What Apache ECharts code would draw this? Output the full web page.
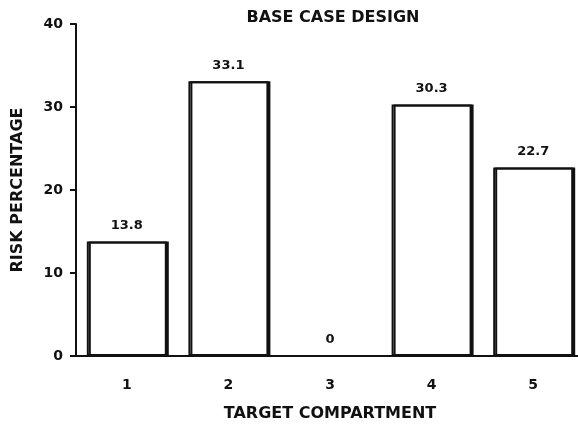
<!DOCTYPE html>
<html><head><meta charset="utf-8">
<script src="https://cdn.jsdelivr.net/npm/echarts@6/dist/echarts.min.js"></script>
<style>html,body{margin:0;padding:0;background:#fff}#c{width:578px;height:426px}</style>
</head><body><div id="c"></div>
<script>
const categories = ['1','2','3','4','5'];
const riskValues = [13.8, 33.1, 0, 30.3, 22.7];
const yTicks = [0, 10, 20, 30, 40];
const font = 'DejaVu Sans, sans-serif';
const chart = echarts.init(document.getElementById('c'), null, {renderer:'canvas'});
chart.setOption({
  animation:false,
  backgroundColor:'#fff',
  title:{text:'BASE CASE DESIGN', left:328, top:5, textAlign:'center',
    textStyle:{fontFamily:font, fontWeight:'bold', fontSize:16, color:'#111'}},
  grid:{left:76, width:508, top:24, bottom:70, containLabel:false, outerBoundsMode:'none'},
  xAxis:{type:'category', data:categories, boundaryGap:true,
    name:'TARGET COMPARTMENT', nameLocation:'middle', nameGap:50,
    nameTextStyle:{fontFamily:font, fontWeight:'bold', fontSize:16, color:'#111'},
    axisLine:{lineStyle:{color:'#111', width:2}},
    axisTick:{alignWithLabel:true, length:5, lineStyle:{color:'#111', width:2}},
    axisLabel:{fontFamily:font, fontWeight:'bold', fontSize:14, color:'#111', margin:22}},
  yAxis:{type:'value', min:yTicks[0], max:yTicks[yTicks.length-1], interval:10,
    name:'RISK PERCENTAGE', nameLocation:'middle', nameGap:50, nameRotate:90,
    nameTextStyle:{fontFamily:font, fontWeight:'bold', fontSize:16, color:'#111'},
    axisLine:{show:true, lineStyle:{color:'#111', width:2}},
    axisTick:{show:true, length:6, lineStyle:{color:'#111', width:2}},
    splitLine:{show:false},
    axisLabel:{fontFamily:font, fontWeight:'bold', fontSize:14, color:'#111', margin:13}},
  series:[{type:'bar', data:riskValues, barWidth:80,
    itemStyle:{color:'#fff', borderColor:'#111', borderWidth:2,
      shadowColor:'#111', shadowOffsetX:2, shadowOffsetY:0, shadowBlur:0},
    label:{show:true, position:'top', distance:9, fontFamily:font, fontWeight:'bold', fontSize:13, color:'#111'}}]
});
</script></body></html>
